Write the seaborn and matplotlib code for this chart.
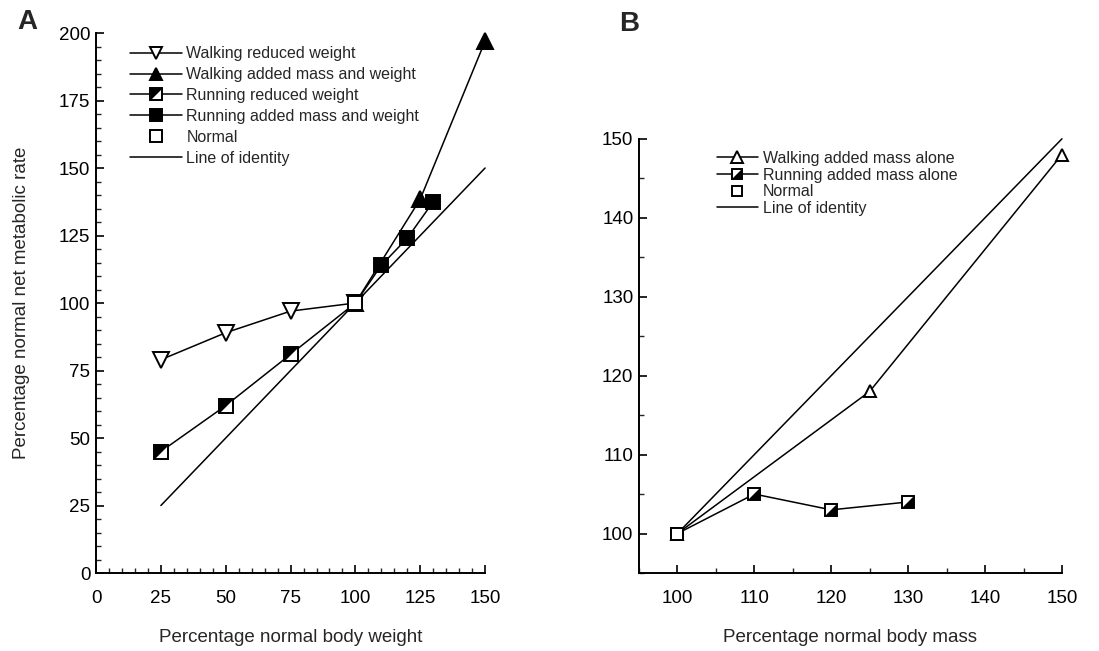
import matplotlib
matplotlib.use("Agg")
import matplotlib.pyplot as plt
import seaborn as sns
from matplotlib.lines import Line2D
from matplotlib.legend_handler import HandlerTuple
from matplotlib.ticker import MultipleLocator

# Panel A data
walk_red_x = [25, 50, 75, 100]
walk_red_y = [79, 89, 97, 100]
walk_add_x = [100, 125, 150]
walk_add_y = [100, 138.5, 197]
run_red_x = [25, 50, 75, 100]
run_red_y = [45, 62, 81, 100]
run_add_x = [100, 110, 120, 130]
run_add_y = [100, 114, 124, 137.5]
normal_x = [100]
normal_y = [100]
ident_a = [25, 150]

# Panel B data
walk_mass_x = [100, 125, 150]
walk_mass_y = [100, 118, 148]
run_mass_x = [100, 110, 120, 130]
run_mass_y = [100, 105, 103, 104]
ident_b = [100, 150]

sns.set_style("ticks")
plt.rcParams["font.family"] = ["Liberation Sans", "DejaVu Sans"]

UL = [(-1, 1), (1, 1), (-1, -1)]   # upper-left half fill
LR = [(1, 1), (1, -1), (-1, -1)]   # lower-right half fill
LW = 1.1
MEW = 1.4

fig = plt.figure(figsize=(10.99, 6.51), dpi=100)
axA = fig.add_axes([0.0874, 0.1198, 0.354, 0.8295])
axB = fig.add_axes([0.5814, 0.1198, 0.3849, 0.667])


def line(ax, x, y, **kw):
    kw.setdefault("color", "k")
    kw.setdefault("linewidth", LW)
    kw.setdefault("markeredgecolor", "k")
    kw.setdefault("markeredgewidth", MEW)
    sns.lineplot(x=x, y=y, ax=ax, clip_on=False, **kw)


def half(ax, x, y, verts, ms):
    sns.lineplot(x=x, y=y, ax=ax, linestyle="", marker=verts, markersize=ms,
                 markerfacecolor="k", markeredgewidth=0, color="k",
                 clip_on=False, zorder=5)


# ---- Panel A ----
msA = 10
line(axA, ident_a, ident_a)
line(axA, walk_red_x, walk_red_y, marker="v", markersize=msA + 1,
     markerfacecolor="white")
line(axA, walk_add_x, walk_add_y, marker="^", markersize=msA + 1,
     markerfacecolor="k")
line(axA, run_red_x, run_red_y, marker="s", markersize=msA,
     markerfacecolor="white")
half(axA, run_red_x[:-1], run_red_y[:-1], UL, msA)
line(axA, run_add_x, run_add_y, marker="s", markersize=msA,
     markerfacecolor="k")
line(axA, normal_x, normal_y, marker="s", markersize=msA,
     markerfacecolor="white", linestyle="", zorder=6)

axA.set_xlim(0, 150)
axA.set_ylim(0, 200)
axA.xaxis.set_major_locator(MultipleLocator(25))
axA.xaxis.set_minor_locator(MultipleLocator(5))
axA.yaxis.set_major_locator(MultipleLocator(25))
axA.yaxis.set_minor_locator(MultipleLocator(5))
axA.set_xlabel("Percentage normal body weight", fontsize=13.5, labelpad=16)
axA.set_ylabel("Percentage normal net metabolic rate", fontsize=13.5, labelpad=21)

lmA = 9
hA = [
    Line2D([], [], color="k", lw=LW, marker="v", ms=lmA, mfc="white", mec="k", mew=MEW),
    Line2D([], [], color="k", lw=LW, marker="^", ms=lmA, mfc="k", mec="k", mew=MEW),
    (Line2D([], [], color="k", lw=LW, marker="s", ms=lmA - 1, mfc="white", mec="k", mew=MEW),
     Line2D([], [], ls="", marker=UL, ms=lmA - 1, mfc="k", mew=0)),
    Line2D([], [], color="k", lw=LW, marker="s", ms=lmA - 1, mfc="k", mec="k", mew=MEW),
    Line2D([], [], ls="", marker="s", ms=lmA - 1, mfc="white", mec="k", mew=MEW),
    Line2D([], [], color="k", lw=LW),
]
lA = ["Walking reduced weight", "Walking added mass and weight",
      "Running reduced weight", "Running added mass and weight",
      "Normal", "Line of identity"]
fig.legend(hA, lA, loc="upper left", bbox_to_anchor=(0.118, 0.929),
           frameon=False, fontsize=11.5, handlelength=3.3, handletextpad=0.25,
           labelspacing=0.37, borderpad=0, borderaxespad=0, numpoints=1,
           handler_map={tuple: HandlerTuple(ndivide=1)})

# ---- Panel B ----
msB = 8
line(axB, ident_b, ident_b)
line(axB, walk_mass_x, walk_mass_y, marker="^", markersize=msB + 1,
     markerfacecolor="white")
line(axB, run_mass_x, run_mass_y, marker="s", markersize=msB,
     markerfacecolor="white")
half(axB, run_mass_x[1:], run_mass_y[1:], LR, msB)
line(axB, normal_x, normal_y, marker="s", markersize=msB + 1,
     markerfacecolor="white", linestyle="", zorder=6)

axB.set_xlim(95, 150)
axB.set_ylim(95, 150)
axB.xaxis.set_major_locator(MultipleLocator(10))
axB.xaxis.set_minor_locator(MultipleLocator(5))
axB.set_xticks(range(100, 151, 10))
axB.yaxis.set_major_locator(MultipleLocator(10))
axB.yaxis.set_minor_locator(MultipleLocator(5))
axB.set_yticks(range(100, 151, 10))
axB.set_xlabel("Percentage normal body mass", fontsize=13.5, labelpad=16)

hB = [
    Line2D([], [], color="k", lw=LW, marker="^", ms=msB, mfc="white", mec="k", mew=MEW),
    (Line2D([], [], color="k", lw=LW, marker="s", ms=msB - 1, mfc="white", mec="k", mew=MEW),
     Line2D([], [], ls="", marker=LR, ms=msB - 1, mfc="k", mew=0)),
    Line2D([], [], ls="", marker="s", ms=msB - 1, mfc="white", mec="k", mew=MEW),
    Line2D([], [], color="k", lw=LW),
]
lB = ["Walking added mass alone", "Running added mass alone", "Normal",
      "Line of identity"]
fig.legend(hB, lB, loc="upper left", bbox_to_anchor=(0.652, 0.768),
           frameon=False, fontsize=11.5, handlelength=2.6, handletextpad=0.3,
           labelspacing=0.1, borderpad=0, borderaxespad=0, numpoints=1,
           handler_map={tuple: HandlerTuple(ndivide=1)})

for ax in (axA, axB):
    sns.despine(ax=ax)
    for s in ("left", "bottom"):
        ax.spines[s].set_linewidth(1.4)
        ax.spines[s].set_color("k")
    ax.tick_params(which="major", direction="in", length=6, width=1.2,
                   labelsize=13.5, colors="k")
    ax.tick_params(which="minor", direction="in", length=3.5, width=1.0)
    ax.tick_params(axis="x", which="major", pad=12)
    ax.tick_params(axis="y", which="major", pad=4)

fig.text(0.016, 0.966, "A", fontsize=20, fontweight="bold", ha="left", va="center")
fig.text(0.563, 0.963, "B", fontsize=20, fontweight="bold", ha="left", va="center")

fig.savefig("out.png", dpi=100)
